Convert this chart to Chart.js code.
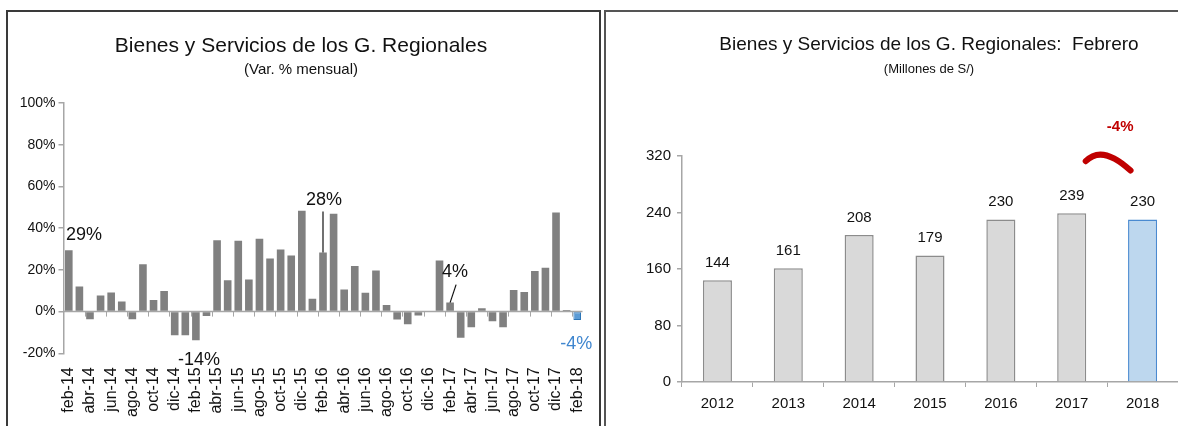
<!DOCTYPE html>
<html>
<head>
<meta charset="utf-8">
<script src="https://cdn.jsdelivr.net/npm/chart.js@4.4.1/dist/chart.umd.min.js"></script>
<style>
  html, body { margin: 0; padding: 0; background: #fff; }
  body { width: 1178px; height: 426px; position: relative; overflow: hidden; }
  .panel { position: absolute; top: 10px; height: 440px; border: 2px solid #3a3a3a; border-bottom: none; box-sizing: border-box; }
  #p1 { left: 6px; width: 595px; }
  #p2 { left: 604px; width: 640px; border-color: #555; }
  canvas { position: absolute; top: 0; }
  #c1 { left: 0; }
  #c2 { left: 603px; }
</style>
</head>
<body>
<div class="panel" id="p1"></div>
<div class="panel" id="p2"></div>
<canvas id="c1" width="600" height="426"></canvas>
<canvas id="c2" width="652" height="426"></canvas>
<script>
// --- data ---
var meses = ['feb-14','mar-14','abr-14','may-14','jun-14','jul-14','ago-14','sep-14','oct-14','nov-14','dic-14',
             'ene-15','feb-15','mar-15','abr-15','may-15','jun-15','jul-15','ago-15','sep-15','oct-15','nov-15','dic-15',
             'ene-16','feb-16','mar-16','abr-16','may-16','jun-16','jul-16','ago-16','sep-16','oct-16','nov-16','dic-16',
             'ene-17','feb-17','mar-17','abr-17','may-17','jun-17','jul-17','ago-17','sep-17','oct-17','nov-17','dic-17',
             'ene-18','feb-18'];
var varMensual = [29.4, 12, -3.7, 7.7, 9.1, 4.8, -3.7, 22.7, 5.6, 9.9, -11.4,
                  -11.4, -13.8, -2.1, 34.2, 15, 34, 15.4, 34.9, 25.4, 29.8, 26.9, 48.3,
                  6.2, 28.3, 46.9, 10.6, 21.9, 9, 19.7, 3.2, -3.8, -6.1, -1.9, 0,
                  24.5, 4.3, -12.5, -7.5, 1.6, -4.6, -7.5, 10.4, 9.4, 19.5, 21, 47.5,
                  0.8, -4.0];
var pctTicks = [-20, 0, 20, 40, 60, 80, 100];

var anios = ['2012','2013','2014','2015','2016','2017','2018'];
var febrero = [144, 161, 208, 179, 230, 239, 230];
var soleTicks = [0, 80, 160, 240, 320];

var titulo1 = 'Bienes y Servicios de los G. Regionales';
var subtitulo1 = '(Var. % mensual)';
var titulo2 = 'Bienes y Servicios de los G. Regionales:  Febrero';
var subtitulo2 = '(Millones de S/)';

var SANS = '"Liberation Sans", Arial, sans-serif';
Chart.defaults.font.family = SANS;
Chart.defaults.color = '#111';

var AXIS = '#a6a6a6';
var lastM = meses.length - 1;
var lastA = anios.length - 1;

// labels on a few monthly bars
var notas = [
  { i: 0,  align: 'left',   dx: -4, dy: -15 },
  { i: 12, align: 'center', dx: 3,  dy: 20 },
  { i: 24, align: 'center', dx: 1,  dy: -53, leader: [0, -41, 0, 0] },
  { i: 36, align: 'center', dx: 5,  dy: -31, leader: [6, -18, 0, 0] },
  { i: 48, align: 'center', dx: -1, dy: 24, color: '#3f86cf' }
];

var izquierda = {
  id: 'izquierda',
  beforeDatasetsDraw: function(chart) {
    var ctx = chart.ctx, area = chart.chartArea, y = chart.scales.y;
    var y0 = y.getPixelForValue(0);
    var paso = (area.right - area.left) / meses.length;
    ctx.save();
    ctx.strokeStyle = AXIS;
    ctx.lineWidth = 1.5;
    ctx.beginPath(); ctx.moveTo(area.left, y0); ctx.lineTo(area.right, y0); ctx.stroke();
    ctx.lineWidth = 1;
    for (var k = 2; k <= meses.length; k += 2) {
      var px = Math.round(area.left + k * paso) + 0.5;
      ctx.beginPath(); ctx.moveTo(px, y0); ctx.lineTo(px, y0 + 5); ctx.stroke();
    }
    ctx.restore();
  },
  afterDatasetsDraw: function(chart) {
    var ctx = chart.ctx;
    var meta = chart.getDatasetMeta(0);
    ctx.save();
    ctx.font = '18px ' + SANS;
    ctx.textBaseline = 'middle';
    notas.forEach(function(n) {
      var bar = meta.data[n.i];
      var x = n.align === 'left' ? bar.x - bar.width / 2 + n.dx + 5 : bar.x + n.dx;
      ctx.fillStyle = n.color || '#111';
      ctx.textAlign = n.align;
      ctx.fillText(Math.round(varMensual[n.i]) + '%', x, bar.y + n.dy);
      if (n.leader) {
        ctx.strokeStyle = '#111';
        ctx.lineWidth = 1.2;
        ctx.beginPath();
        ctx.moveTo(bar.x + n.leader[0], bar.y + n.leader[1]);
        ctx.lineTo(bar.x + n.leader[2], bar.y + n.leader[3]);
        ctx.stroke();
      }
    });
    ctx.restore();
  }
};

new Chart(document.getElementById('c1'), {
  type: 'bar',
  data: {
    labels: meses,
    datasets: [{
      data: varMensual,
      backgroundColor: function(c) { return c.dataIndex === lastM ? '#5b9bd5' : '#808080'; },
      borderColor: function(c) { return c.dataIndex === lastM ? '#2e75b6' : '#808080'; },
      borderWidth: function(c) { return c.dataIndex === lastM ? 1 : 0; },
      borderSkipped: false,
      barPercentage: 0.72,
      categoryPercentage: 1
    }]
  },
  options: {
    responsive: false,
    animation: false,
    layout: { padding: { left: 19.5, right: 17.5, top: 0, bottom: 0 } },
    plugins: {
      legend: { display: false },
      tooltip: { enabled: false },
      title: { display: true, text: titulo1,
               font: { size: 21, weight: 'normal' }, padding: { top: 34, bottom: 0 } },
      subtitle: { display: true, text: subtitulo1,
                  font: { size: 15 }, padding: { top: 2, bottom: 23.8 } }
    },
    scales: {
      x: {
        grid: { display: false, drawTicks: false },
        border: { display: false },
        ticks: {
          autoSkip: false, minRotation: 90, maxRotation: 90, padding: 14,
          font: { size: 16 },
          callback: function(v, i) { return i % 2 === 0 ? meses[i] : ''; }
        },
        afterFit: function(s) { s.height = 72.7; s.paddingLeft = 0; s.paddingRight = 0; }
      },
      y: {
        min: pctTicks[0], max: pctTicks[pctTicks.length - 1],
        afterBuildTicks: function(s) { s.ticks = pctTicks.map(function(v) { return { value: v }; }); },
        ticks: { font: { size: 14 }, padding: 3, callback: function(v) { return v + '%'; } },
        grid: { drawOnChartArea: false, tickLength: 5, color: AXIS, lineWidth: 1.5 },
        border: { color: AXIS, width: 1.5 },
        afterFit: function(s) { s.width = 44; }
      }
    }
  },
  plugins: [izquierda]
});

var derecha = {
  id: 'derecha',
  afterDatasetsDraw: function(chart) {
    var ctx = chart.ctx;
    var meta = chart.getDatasetMeta(0);
    ctx.save();
    ctx.textAlign = 'center';
    ctx.textBaseline = 'middle';
    ctx.fillStyle = '#111';

    // titles, centred on the whole panel
    ctx.font = '19px ' + SANS;
    ctx.fillText(titulo2, chart.width / 2, 45);
    ctx.font = '13px ' + SANS;
    ctx.fillText(subtitulo2, chart.width / 2, 69);

    ctx.font = '15px ' + SANS;
    meta.data.forEach(function(bar, i) { ctx.fillText(febrero[i], bar.x, bar.y - 17.5); });

    // variation between the last two years
    var a = meta.data[lastA - 1], b = meta.data[lastA];
    var x1 = a.x + 14, y1 = a.y - 52, x2 = b.x - 12, y2 = b.y - 49;
    var cx = (x1 + x2) / 2 - 6, cy = Math.min(y1, y2) - 17;
    ctx.strokeStyle = '#c00000';
    ctx.lineWidth = 6;
    ctx.lineCap = 'round';
    ctx.beginPath();
    ctx.moveTo(x1, y1);
    ctx.quadraticCurveTo(cx, cy, x2, y2);
    ctx.stroke();

    var pct = Math.round((febrero[lastA] / febrero[lastA - 1] - 1) * 100);
    ctx.fillStyle = '#c00000';
    ctx.font = 'bold 15px ' + SANS;
    ctx.fillText(pct + '%', (x1 + x2) / 2 + 12, y1 - 34);
    ctx.restore();
  }
};

new Chart(document.getElementById('c2'), {
  type: 'bar',
  data: {
    labels: anios,
    datasets: [{
      data: febrero,
      backgroundColor: function(c) { return c.dataIndex === lastA ? '#bdd7ee' : '#d9d9d9'; },
      borderColor: function(c) { return c.dataIndex === lastA ? '#4a8ad0' : '#8c8c8c'; },
      borderWidth: 1.5,
      barPercentage: 0.41,
      categoryPercentage: 1
    }]
  },
  options: {
    responsive: false,
    animation: false,
    layout: { padding: { left: 35, right: 77, top: 156, bottom: 0 } },
    plugins: {
      legend: { display: false },
      tooltip: { enabled: false }
    },
    scales: {
      x: {
        grid: { drawOnChartArea: false, tickLength: 5, color: AXIS },
        border: { color: AXIS, width: 1.5 },
        ticks: { font: { size: 15 }, padding: 8 },
        afterFit: function(s) { s.height = 44; }
      },
      y: {
        min: soleTicks[0], max: soleTicks[soleTicks.length - 1],
        afterBuildTicks: function(s) { s.ticks = soleTicks.map(function(v) { return { value: v }; }); },
        ticks: { font: { size: 15 }, padding: 6 },
        grid: { drawOnChartArea: false, tickLength: 5, color: AXIS, lineWidth: 1.5 },
        border: { color: AXIS, width: 1.5 },
        afterFit: function(s) { s.width = 44; }
      }
    }
  },
  plugins: [derecha]
});
</script>
</body>
</html>
